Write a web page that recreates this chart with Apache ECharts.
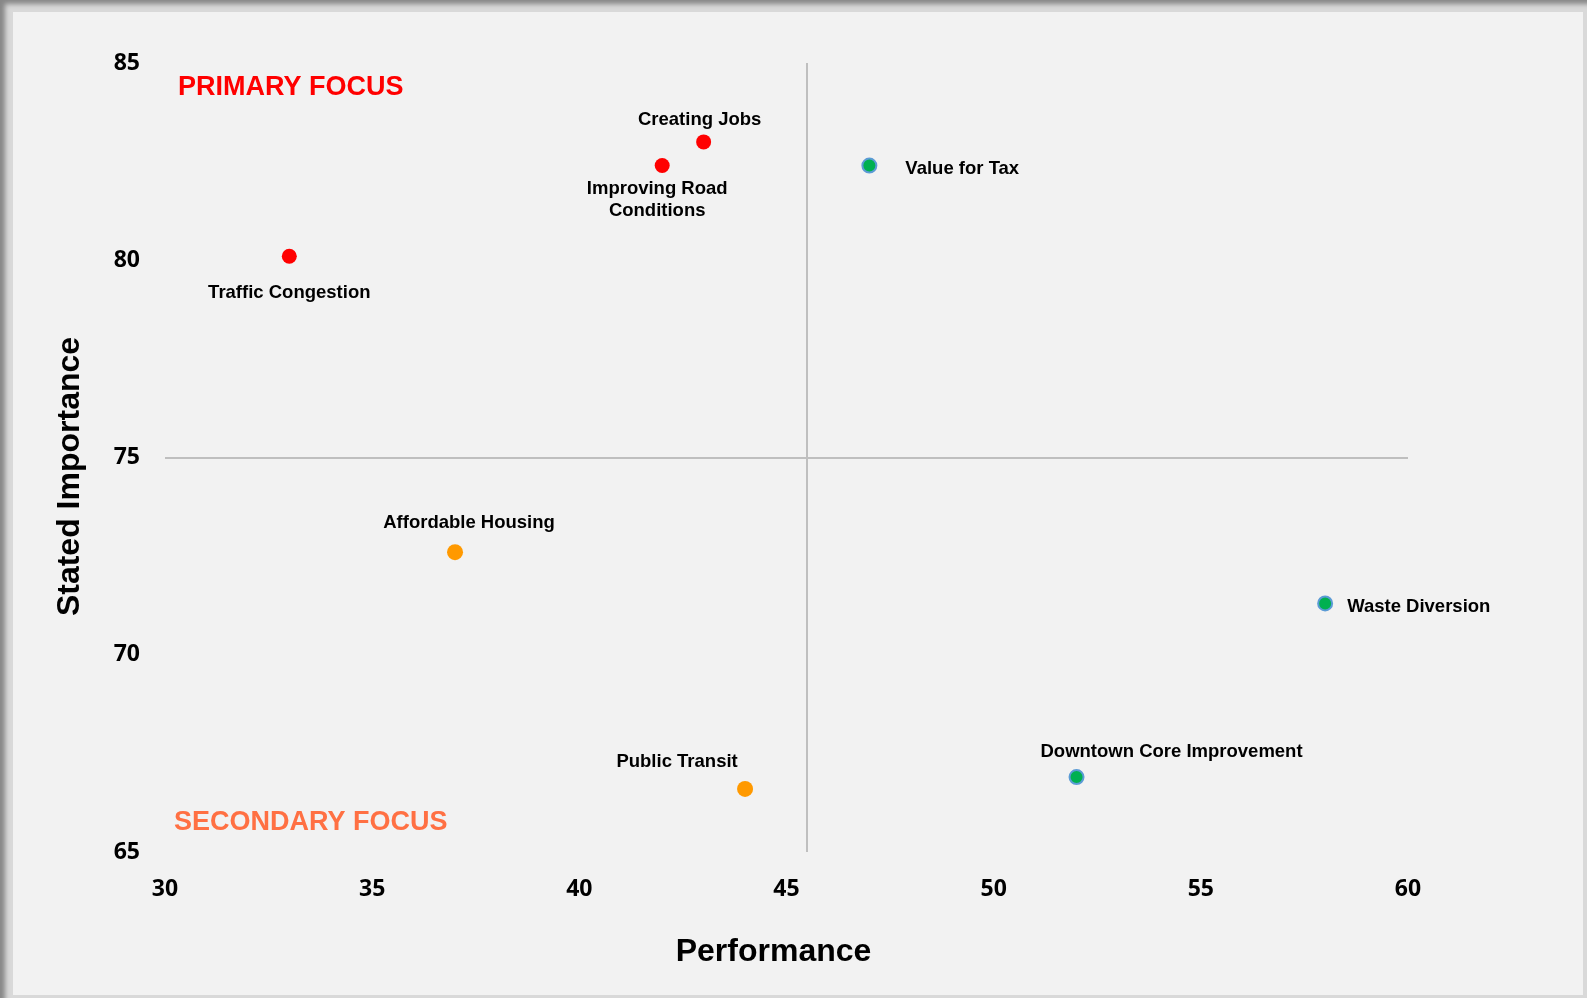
<!DOCTYPE html>
<html>
<head>
<meta charset="utf-8">
<script src="https://cdn.jsdelivr.net/npm/echarts@6/dist/echarts.min.js"></script>
<style>
  html, body { margin: 0; padding: 0; background: #f2f2f2; }
  #main { position: absolute; left: 0; top: 0; width: 1587px; height: 998px; }
  /* 外框 */
  .frame { position: absolute; left: 0; top: 0; width: 1587px; height: 998px; box-sizing: border-box;
    border-style: solid; border-color: #d9d9d9; border-width: 12px 4px 3px 13px; pointer-events: none; }
  .shade { position: absolute; left: 0; top: 0; width: 1587px; height: 998px; pointer-events: none;
    box-shadow: inset 8px 7px 5px -3px rgba(0,0,0,0.38); }
</style>
</head>
<body>
<div id="main"></div>
<div class="frame"></div>
<div class="shade"></div>
<script>
// 数据
const names = ['Creating Jobs', 'Improving Road\nConditions', 'Value for Tax', 'Traffic Congestion',
  'Affordable Housing', 'Waste Diversion', 'Public Transit', 'Downtown Core Improvement'];
const performance = [43, 42, 47, 33, 37, 58, 44, 52];
const importance = [83, 82.4, 82.4, 80.1, 72.6, 71.3, 66.6, 66.9];
const groups = ['primary', 'primary', 'other', 'primary', 'secondary', 'other', 'secondary', 'other'];
const xTicks = [30, 35, 40, 45, 50, 55, 60];
const yTicks = [65, 70, 75, 80, 85];
const quadrantX = 45.5;
const quadrantY = 75;

// 标签位置
const labelPos = {
  'Creating Jobs': { position: 'top', offset: [-4, 2] },
  'Improving Road\nConditions': { position: 'bottom', offset: [-5, 0] },
  'Value for Tax': { position: 'right', offset: [23, 3] },
  'Traffic Congestion': { position: 'bottom', offset: [0, 13] },
  'Affordable Housing': { position: 'top', offset: [14, -5] },
  'Waste Diversion': { position: 'right', offset: [9, 3] },
  'Public Transit': { position: 'top', offset: [-68, -3] },
  'Downtown Core Improvement': { position: 'top', offset: [95, -1] }
};

const groupStyle = {
  primary: { color: '#ff0000', borderColor: '#ff0000', borderWidth: 0, size: 15 },
  secondary: { color: '#ff9900', borderColor: '#ff9900', borderWidth: 0, size: 16 },
  other: { color: '#00b050', borderColor: '#5b9bd5', borderWidth: 2, size: 14 }
};

let chart = echarts.init(document.getElementById('main'));

let series = ['primary', 'secondary', 'other'].map(function(g) {
  let st = groupStyle[g];
  let data = [];
  names.forEach(function(n, i) {
    if (groups[i] !== g) return;
    data.push({
      name: n,
      value: [performance[i], importance[i]],
      label: labelPos[n]
    });
  });
  return {
    type: 'scatter',
    symbolSize: st.size,
    itemStyle: { color: st.color, borderColor: st.borderColor, borderWidth: st.borderWidth, opacity: 1 },
    label: {
      show: true,
      formatter: '{b}',
      color: '#000',
      fontFamily: 'Liberation Sans, Arial',
      fontWeight: 'bold',
      fontSize: 18.5,
      lineHeight: 22
    },
    data: data,
    z: 3
  };
});

// 象限分隔线
series.push({
  type: 'scatter',
  data: [],
  silent: true,
  markLine: {
    silent: true,
    symbol: 'none',
    label: { show: false },
    lineStyle: { color: '#bfbfbf', width: 2, type: 'solid' },
    data: [{ xAxis: quadrantX }, { yAxis: quadrantY }]
  },
  z: 1
});

let option = {
  backgroundColor: '#f2f2f2',
  animation: false,
  grid: { left: 165, right: 179, top: 63, bottom: 146 },
  xAxis: {
    type: 'value',
    min: xTicks[0],
    max: xTicks[xTicks.length - 1],
    interval: 5,
    name: 'Performance',
    nameLocation: 'middle',
    nameGap: 84,
    nameTextStyle: { fontFamily: 'Liberation Sans, Arial', fontWeight: 'bold', fontSize: 32, color: '#000', padding: [0, 26, 0, 0] },
    axisLine: { show: false },
    axisTick: { show: false },
    splitLine: { show: false },
    axisLabel: { margin: 26, fontFamily: 'Open Sans', fontWeight: 'bold', fontSize: 23, color: '#000' }
  },
  yAxis: {
    type: 'value',
    min: yTicks[0],
    max: yTicks[yTicks.length - 1],
    interval: 5,
    name: 'Stated Importance',
    nameLocation: 'middle',
    nameGap: 79,
    nameTextStyle: { fontFamily: 'Liberation Sans, Arial', fontWeight: 'bold', fontSize: 32, color: '#000', padding: [0, 38, 0, 0] },
    axisLine: { show: false },
    axisTick: { show: false },
    splitLine: { show: false },
    axisLabel: { margin: 25, fontFamily: 'Open Sans', fontWeight: 'bold', fontSize: 23, color: '#000', padding: [2, 0, 0, 0] }
  },
  graphic: [
    {
      type: 'text', left: 178, top: 74,
      style: { text: 'PRIMARY FOCUS', fill: '#ff0000', font: 'bold 27px "Liberation Sans", Arial' }
    },
    {
      type: 'text', left: 174, top: 809,
      style: { text: 'SECONDARY FOCUS', fill: '#ff7043', font: 'bold 27px "Liberation Sans", Arial' }
    }
  ],
  series: series
};
option && chart.setOption(option);
</script>
</body>
</html>
